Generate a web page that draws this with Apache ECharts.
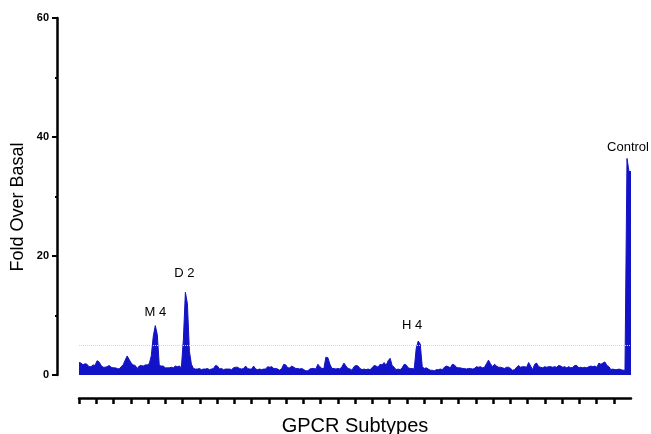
<!DOCTYPE html>
<html>
<head>
<meta charset="utf-8">
<script src="https://cdn.jsdelivr.net/npm/echarts@6/dist/echarts.min.js"></script>
<style>
  html, body { margin: 0; padding: 0; background: #fff; }
  #chart { width: 651px; height: 434px; }
</style>
</head>
<body>
<div id="chart"></div>
<script>
// fold over basal, one reading per screened receptor position (left to right)
const foldOverBasal = [
  2.1, 2.0, 1.7, 1.9, 1.8, 1.4, 1.4, 1.7, 1.6, 2.4,
  2.2, 1.6, 1.3, 1.3, 1.4, 1.6, 1.3, 1.2, 1.2, 1.1,
  1.0, 1.4, 1.7, 2.5, 3.2, 2.6, 2.0, 1.7, 1.6, 1.1,
  1.5, 1.6, 1.5, 1.7, 1.7, 1.9, 3.2, 6.5, 8.3, 6.8,
  1.6, 1.5, 1.5, 1.2, 1.2, 1.2, 1.3, 1.2, 1.5, 1.4,
  1.5, 1.2, 6.0, 13.9, 12.0, 4.0, 1.8, 1.1, 1.0, 1.0,
  1.1, 0.9, 1.0, 1.0, 1.1, 0.9, 1.0, 1.1, 1.6, 1.5,
  1.0, 1.1, 0.9, 1.0, 1.0, 1.0, 0.9, 1.2, 1.3, 1.3,
  1.1, 1.0, 1.1, 1.5, 1.1, 1.0, 1.0, 1.5, 1.0, 0.9,
  1.0, 0.9, 1.0, 1.0, 1.4, 1.3, 1.4, 1.1, 1.1, 1.0,
  0.8, 1.1, 1.8, 1.7, 1.2, 1.2, 1.5, 1.3, 1.1, 1.1,
  1.0, 1.1, 0.9, 0.7, 0.7, 1.0, 1.1, 1.1, 1.0, 1.8,
  1.4, 1.1, 1.1, 3.0, 2.9, 1.8, 1.1, 1.1, 1.0, 1.1,
  1.0, 1.4, 2.0, 1.5, 1.1, 1.0, 0.8, 1.4, 1.6, 1.5,
  1.1, 0.9, 1.0, 0.9, 1.0, 0.9, 1.2, 1.6, 1.5, 1.3,
  1.8, 1.7, 2.1, 1.6, 2.4, 2.8, 1.6, 1.3, 0.9, 1.0,
  0.9, 1.2, 1.8, 1.7, 1.2, 1.1, 1.1, 1.0, 4.5, 5.7,
  5.2, 1.4, 1.1, 1.2, 1.0, 0.8, 0.8, 0.7, 0.9, 0.9,
  1.0, 0.9, 1.3, 1.5, 1.4, 1.2, 1.8, 1.7, 1.3, 1.2,
  1.2, 1.1, 1.1, 1.0, 1.1, 1.1, 1.0, 1.1, 1.4, 1.3,
  1.4, 1.2, 1.3, 1.9, 2.5, 1.9, 1.4, 1.8, 1.5, 1.3,
  1.3, 1.2, 1.1, 1.3, 1.3, 1.1, 0.8, 0.9, 1.3, 1.6,
  1.3, 1.4, 1.4, 1.3, 2.1, 1.5, 0.9, 1.8, 2.0, 1.4,
  1.3, 1.2, 1.4, 1.3, 1.4, 1.4, 1.3, 1.4, 1.3, 1.6,
  1.5, 1.3, 1.4, 1.2, 1.4, 1.2, 1.3, 1.6, 1.6, 1.2,
  1.3, 1.2, 1.3, 1.2, 1.4, 1.5, 1.4, 1.5, 1.3, 2.0,
  1.8, 2.0, 2.2, 1.6, 1.4, 0.9, 1.0, 0.9, 0.9, 1.0,
  0.9, 0.8, 0.8, 36.4, 34.2, 34.2
];

// named hits: label and the index of its peak in foldOverBasal
const hitNames = ['M 4', 'D 2', 'H 4', 'Control'];
const hitIndex = [38, 53, 169, 273];

const basalThreshold = 5;
const yTicks = [0, 20, 40, 60];
const subtypeGroups = 32;

const positions = foldOverBasal.map((v, i) => i);
const groupTicks = Array.from({ length: subtypeGroups }, (v, i) => i);

const fontFamily = '"Liberation Sans", Arial, sans-serif';
const blue = '#1212c6';

// per-label nudges so the text sits where it did on the original plot
const labelNudge = [[0, -2], [-1, -7], [-6, -4], [1, 1]];

const chart = echarts.init(document.getElementById('chart'));

chart.setOption({
  animation: false,
  backgroundColor: '#fff',
  grid: { left: 79, right: 20, top: 18, bottom: 59, outerBoundsMode: 'none', containLabel: false },
  xAxis: [
    {
      type: 'category',
      data: positions,
      boundaryGap: false,
      show: false
    },
    {
      type: 'value',
      min: 0,
      max: subtypeGroups,
      interval: 1,
      position: 'bottom',
      offset: 23,
      axisLine: { show: true, onZero: false, lineStyle: { color: '#000', width: 2.5 } },
      axisTick: {
        show: true,
        length: 6,
        customValues: groupTicks,
        lineStyle: { color: '#000', width: 2.5 }
      },
      axisLabel: { show: false },
      splitLine: { show: false },
      name: 'GPCR Subtypes',
      nameLocation: 'middle',
      nameGap: 18,
      nameTextStyle: { color: '#000', fontSize: 20, fontFamily: fontFamily }
    }
  ],
  yAxis: {
    type: 'value',
    min: yTicks[0],
    max: yTicks[yTicks.length - 1],
    interval: 20,
    offset: 22,
    axisLine: { show: true, onZero: false, lineStyle: { color: '#000', width: 2.5 } },
    axisTick: { show: true, length: 5, lineStyle: { color: '#000', width: 2 } },
    minorTick: { show: true, splitNumber: 2, length: 2, lineStyle: { color: '#000', width: 2 } },
    axisLabel: { color: '#000', fontSize: 11, fontWeight: 'bold', fontFamily: fontFamily, margin: 8 },
    splitLine: { show: false }
  },
  graphic: [
    {
      type: 'text',
      x: 18,
      y: 207,
      rotation: Math.PI / 2,
      style: {
        text: 'Fold Over Basal',
        fill: '#000',
        font: '18px ' + fontFamily,
        align: 'center',
        verticalAlign: 'middle'
      }
    }
  ],
  series: [
    {
      type: 'line',
      xAxisIndex: 0,
      data: foldOverBasal,
      symbol: 'none',
      lineStyle: { color: blue, width: 1 },
      areaStyle: { color: blue, opacity: 1 },
      markLine: {
        silent: true,
        symbol: 'none',
        label: { show: false },
        lineStyle: { type: 'dotted', color: '#d4d4d4', width: 1 },
        data: [{ yAxis: basalThreshold }]
      },
      markPoint: {
        symbol: 'circle',
        symbolSize: 0,
        silent: true,
        data: hitNames.map((name, k) => ({
          coord: [hitIndex[k], foldOverBasal[hitIndex[k]]],
          label: {
            show: true,
            position: 'top',
            distance: 5,
            offset: labelNudge[k],
            formatter: name,
            color: '#000',
            fontSize: 13,
            fontFamily: fontFamily
          }
        }))
      }
    }
  ]
});
</script>
</body>
</html>
